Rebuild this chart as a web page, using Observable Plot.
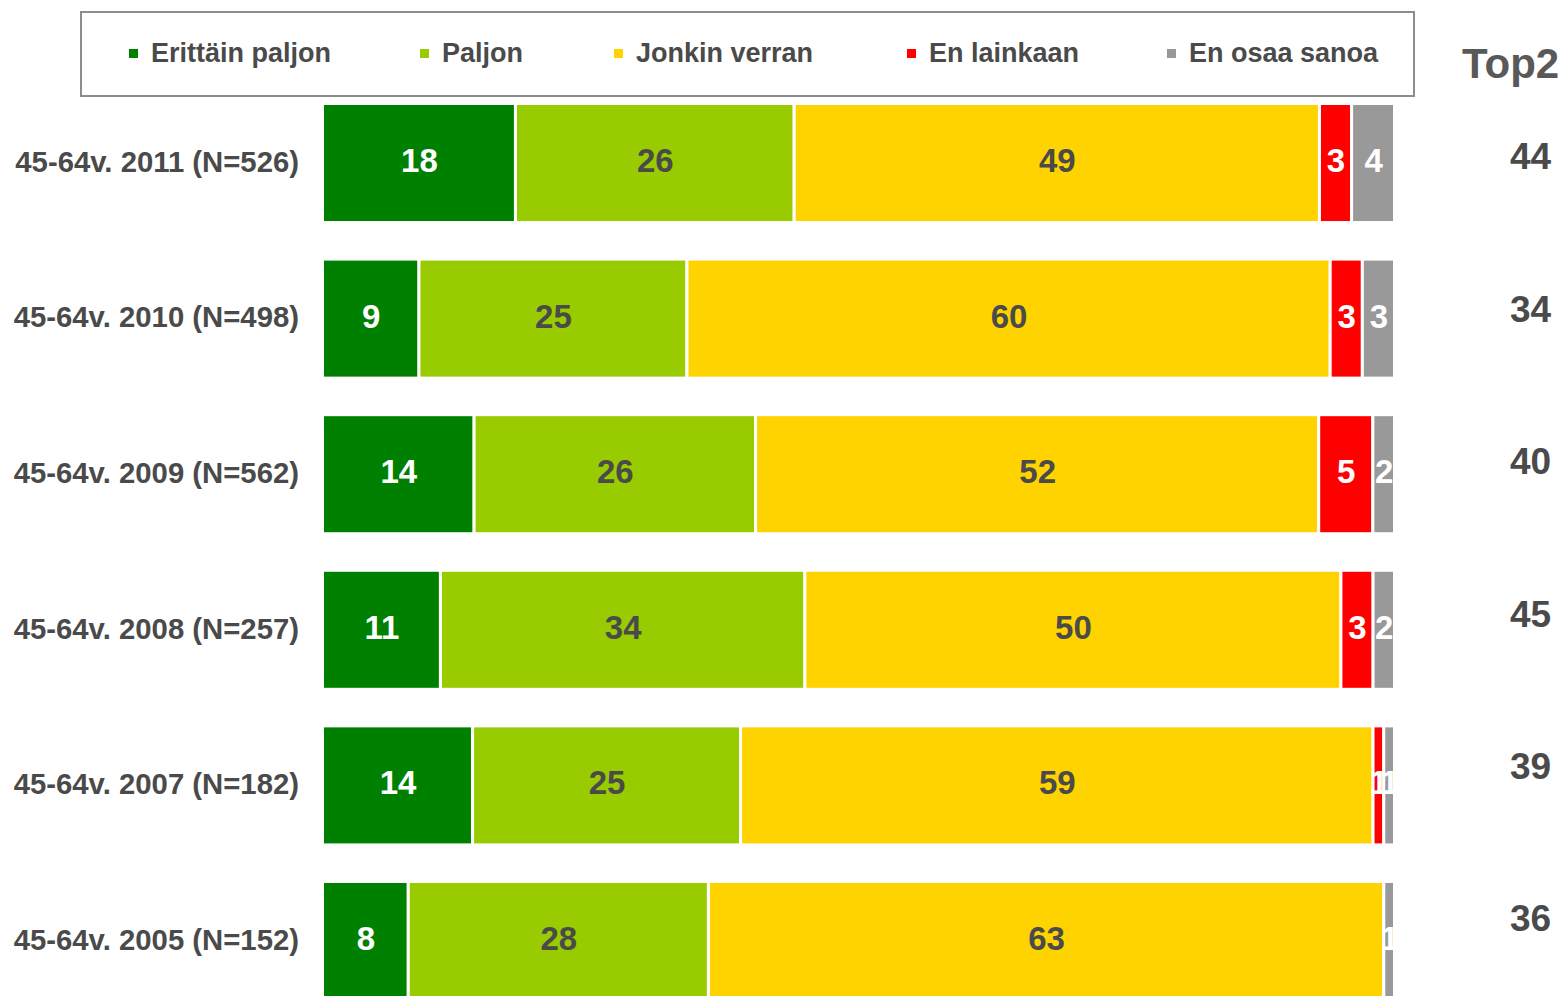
<!DOCTYPE html>
<html>
<head>
<meta charset="utf-8">
<script src="https://cdn.jsdelivr.net/npm/d3@7"></script>
<script src="https://cdn.jsdelivr.net/npm/@observablehq/plot@0.6"></script>
<style>
  body { margin: 0; background: #fff; font-family: "Liberation Sans", Arial, sans-serif; }
  #wrap { position: relative; width: 1564px; height: 996px; overflow: hidden; }
  #legend { position: relative; height: 100px; width: 1564px; }
  .box { position: absolute; left: 80px; top: 11px; width: 1331px; height: 82px; border: 2px solid #8c8c8c; box-sizing: content-box; }
  .item { position: absolute; top: 38px; height: 30px; line-height: 30px; font-size: 27px; font-weight: bold; color: #4a4a4a; display: flex; align-items: center; white-space: nowrap; }
  .sw { width: 9px; height: 9px; margin-right: 13px; flex: none; }
  .top2 { position: absolute; left: 1462px; top: 44px; line-height: 40px; font-size: 42px; font-weight: bold; color: #595959; }
  #chart svg { display: block; }
</style>
</head>
<body>
<div id="wrap">
  <div id="legend"><div class="box"></div></div>
  <div id="chart"></div>
</div>
<script>
// ---- data ----
const rows = [
  "45-64v. 2011 (N=526)",
  "45-64v. 2010 (N=498)",
  "45-64v. 2009 (N=562)",
  "45-64v. 2008 (N=257)",
  "45-64v. 2007 (N=182)",
  "45-64v. 2005 (N=152)"
];
const categories = ["Erittäin paljon", "Paljon", "Jonkin verran", "En lainkaan", "En osaa sanoa"];
const erittainPaljon = [18, 9, 14, 11, 14, 8];
const paljon         = [26, 25, 26, 34, 25, 28];
const jonkinVerran   = [49, 60, 52, 50, 59, 63];
const enLainkaan     = [3, 3, 5, 3, 1, 0];
const enOsaaSanoa    = [4, 3, 2, 2, 1, 1];
const top2           = [44, 34, 40, 45, 39, 36];
const top2Title = "Top2";

// ---- styles ----
const colors = ["#008000", "#99CC00", "#FFD300", "#FF0000", "#999999"];
const whiteTextCats = ["Erittäin paljon", "En lainkaan", "En osaa sanoa"];
const darkText = "#4a4a4a";

const series = [erittainPaljon, paljon, jonkinVerran, enLainkaan, enOsaaSanoa];
const data = rows.flatMap((row, i) => categories.map((cat, j) => ({row, cat, value: series[j][i]})));
const rowLabels = rows.map(row => ({row, x: 0}));

// legend (HTML, above the chart)
const legendPos = [129, 420, 614, 907, 1167];
const legend = document.getElementById("legend");
categories.forEach((c, j) => {
  const it = document.createElement("div");
  it.className = "item";
  it.style.left = legendPos[j] + "px";
  const sw = document.createElement("span");
  sw.className = "sw";
  sw.style.background = colors[j];
  it.appendChild(sw);
  it.appendChild(document.createTextNode(c));
  legend.appendChild(it);
});
const t2 = document.createElement("div");
t2.className = "top2";
t2.textContent = top2Title;
legend.appendChild(t2);

const stackOpts = (extra) => Plot.stackX({x: "value", y: "row", z: "cat", offset: "normalize", ...extra});

const chart = Plot.plot({
  width: 1564,
  height: 896,
  marginLeft: 0, marginRight: 0, marginTop: 0, marginBottom: 0,
  x: {range: [322.5, 1394.5], axis: null},
  y: {domain: rows, range: [3.5, 900.5], paddingInner: 0.235, paddingOuter: 0, round: false, axis: null},
  color: {domain: categories, range: colors},
  style: {fontFamily: '"Liberation Sans", Arial, sans-serif', background: "white", overflow: "visible"},
  marks: [
    Plot.barX(data, stackOpts({fill: "cat", stroke: "white", strokeWidth: 3})),
    Plot.text(data, Plot.filter(d => whiteTextCats.includes(d.cat) && d.value > 0,
      stackOpts({text: "value", fill: "white", fontSize: 33, fontWeight: "bold", dy: -2}))),
    Plot.text(data, Plot.filter(d => !whiteTextCats.includes(d.cat) && d.value > 0,
      stackOpts({text: "value", fill: darkText, fontSize: 33, fontWeight: "bold", dy: -2}))),
    Plot.text(rowLabels, {x: "x", y: "row", text: "row", textAnchor: "end", dx: -24, dy: -1,
      fontSize: 29.3, fontWeight: "bold", fill: darkText}),
    ...top2.map((v, i) => Plot.text([{row: rows[i], v, x: 1}], {x: "x", y: "row", text: "v",
      dx: 135.5, dy: -6 - 3.2 * i, fontSize: 37, fontWeight: "bold", fill: darkText}))
  ]
});
document.getElementById("chart").appendChild(chart);
</script>
</body>
</html>
